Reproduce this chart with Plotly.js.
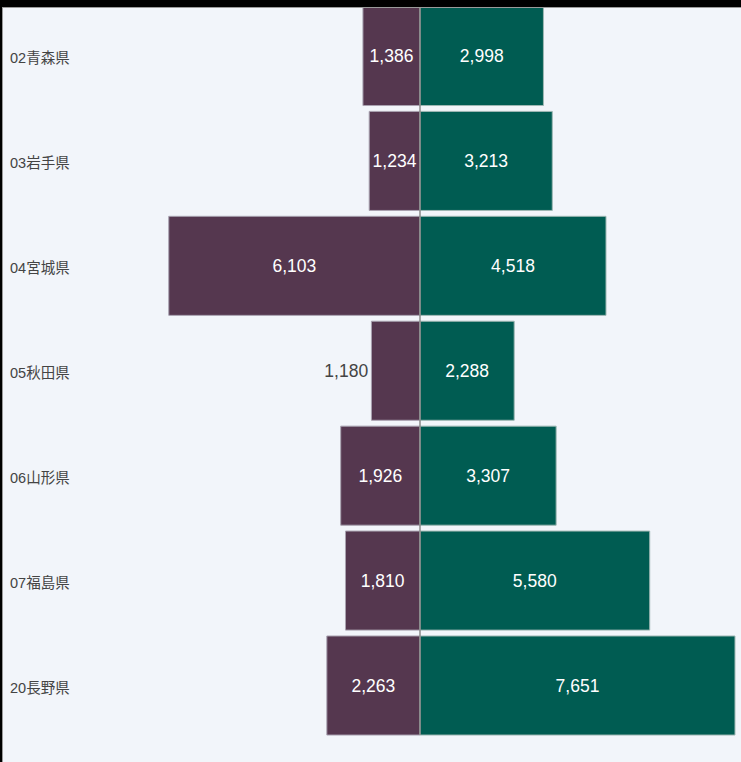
<!DOCTYPE html>
<html>
<head>
<meta charset="utf-8">
<script src="https://cdn.plot.ly/plotly-3.0.1.min.js"></script>
<style>
  html, body { margin: 0; padding: 0; background: #000; width: 741px; height: 762px; overflow: hidden; }
  #frame { position: absolute; left: 2px; top: 7px; border-left: 1px solid #9a9a9a; border-top: 1px solid #9a9a9a; }
  #chart { width: 738px; height: 754px; }
</style>
</head>
<body>
<div id="frame"><div id="chart"></div></div>
<script>
// Data
const prefectures = ["02青森県", "03岩手県", "04宮城県", "05秋田県", "06山形県", "07福島県", "20長野県"];
const leftValues  = [1386, 1234, 6103, 1180, 1926, 1810, 2263];
const rightValues = [2998, 3213, 4518, 2288, 3307, 5580, 7651];

const fmt = v => v.toLocaleString('en-US');
const fontFamily = 'Arial, "Liberation Sans", "Noto Sans CJK JP", sans-serif';
const barGap = 0.056;

const leftTrace = {
  type: 'bar',
  orientation: 'h',
  y: prefectures,
  x: leftValues.map(v => -v),
  text: leftValues.map(fmt),
  textposition: leftValues.map(v => v < 1200 ? 'outside' : 'inside'),
  insidetextanchor: 'middle',
  constraintext: 'none',
  cliponaxis: false,
  textfont: { family: fontFamily, size: 17.5 },
  insidetextfont: { family: fontFamily, size: 17.5, color: '#ffffff' },
  outsidetextfont: { family: fontFamily, size: 17.5, color: '#444444' },
  marker: { color: '#55374f', line: { color: '#a9a2b0', width: 1 } },
  hoverinfo: 'skip',
  showlegend: false
};

const rightTrace = {
  type: 'bar',
  orientation: 'h',
  y: prefectures,
  x: rightValues,
  text: rightValues.map(fmt),
  textposition: 'inside',
  insidetextanchor: 'middle',
  constraintext: 'none',
  textfont: { family: fontFamily, size: 17.5, color: '#ffffff' },
  marker: { color: '#005c52', line: { color: '#9fb8b4', width: 1 } },
  hoverinfo: 'skip',
  showlegend: false
};

const layout = {
  width: 738,
  height: 754,
  margin: { l: 0, r: 0, t: 0, b: 0, pad: 0 },
  paper_bgcolor: '#f2f5fa',
  plot_bgcolor: '#f2f5fa',
  barmode: 'relative',
  bargap: barGap,
  font: { family: fontFamily, color: '#444444' },
  xaxis: {
    range: [-10129, 7797],
    showgrid: false,
    showticklabels: false,
    ticks: '',
    zeroline: false,
    showline: false
  },
  yaxis: {
    type: 'category',
    categoryorder: 'array',
    categoryarray: prefectures,
    range: [6.729, -0.4575],
    showgrid: false,
    zeroline: false,
    showline: false,
    ticks: '',
    ticklabelposition: 'inside',
    ticklabelstandoff: 4,
    ticklabelshift: -2,
    tickfont: { family: fontFamily, size: 14.5, color: '#444444' }
  },
  shapes: [{
    type: 'line', layer: 'above',
    xref: 'x', yref: 'y',
    x0: 0, x1: 0,
    y0: -0.4575, y1: prefectures.length - 1 + (1 - barGap) / 2,
    line: { color: '#8a8a8a', width: 1.5 }
  }]
};

Plotly.newPlot('chart', [leftTrace, rightTrace], layout, { displayModeBar: false, staticPlot: true });
</script>
</body>
</html>
